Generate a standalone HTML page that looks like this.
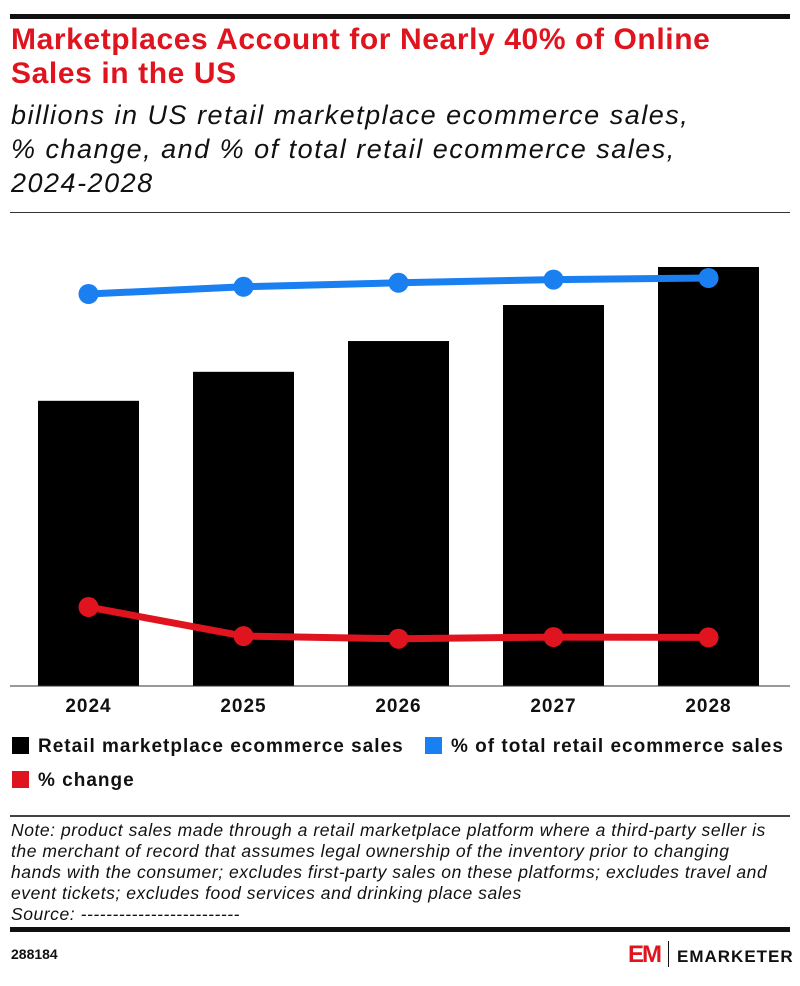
<!DOCTYPE html>
<html><head><meta charset="utf-8"><style>
body{margin:0;width:800px;height:986px;background:#fff;font-family:"Liberation Sans",sans-serif;position:relative;overflow:hidden}
.abs{position:absolute}
</style></head><body>
<div class="abs" style="left:10px;top:14px;width:780px;height:5px;background:#111"></div>
<div class="abs" style="left:11px;top:23px;width:790px;white-space:nowrap;font-weight:bold;font-size:30px;line-height:34px;color:#e0141e;letter-spacing:0.6px">Marketplaces Account for Nearly 40% of Online<br>Sales in the US</div>
<div class="abs" style="left:11px;top:98px;width:790px;white-space:nowrap;font-style:italic;font-size:27px;line-height:34px;color:#111;letter-spacing:1.5px">billions in US retail marketplace ecommerce sales,<br>% change, and % of total retail ecommerce sales,<br>2024-2028</div>
<div class="abs" style="left:10px;top:212px;width:780px;height:1px;background:#333"></div>
<svg class="abs" style="left:0;top:0" width="800" height="986" id="chart"></svg>
<div class="abs" style="left:12px;top:736px;font-weight:bold;font-size:19px;color:#111;letter-spacing:1px"><span style="display:inline-block;width:17px;height:17px;background:#000;vertical-align:-2px;margin-right:9px"></span>Retail marketplace ecommerce sales</div>
<div class="abs" style="left:425px;top:736px;font-weight:bold;font-size:19px;color:#111;letter-spacing:1px"><span style="display:inline-block;width:17px;height:17px;background:#1a7ff0;vertical-align:-2px;margin-right:9px"></span>% of total retail ecommerce sales</div>
<div class="abs" style="left:12px;top:770px;font-weight:bold;font-size:19px;color:#111;letter-spacing:1px"><span style="display:inline-block;width:17px;height:17px;background:#e0141e;vertical-align:-2px;margin-right:9px"></span>% change</div>
<div class="abs" style="left:10px;top:815px;width:780px;height:2px;background:#444"></div>
<div class="abs" style="left:11px;top:820px;width:790px;white-space:nowrap;font-style:italic;font-size:17.5px;line-height:21px;color:#111;letter-spacing:0.55px">Note: product sales made through a retail marketplace platform where a third-party seller is<br>the merchant of record that assumes legal ownership of the inventory prior to changing<br>hands with the consumer; excludes first-party sales on these platforms; excludes travel and<br>event tickets; excludes food services and drinking place sales<br>Source: -------------------------</div>
<div class="abs" style="left:10px;top:927px;width:780px;height:5px;background:#111"></div>
<div class="abs" style="left:11px;top:946px;font-weight:bold;font-size:14px;color:#111">288184</div>
<div class="abs" style="left:628px;top:941px;font-weight:bold;font-size:17px;color:#111;letter-spacing:1px"><span style="color:#e0141e;font-size:24px;letter-spacing:-2px">EM</span><span style="display:inline-block;width:1px;height:26px;background:#111;margin:0 8px;vertical-align:-5px"></span>EMARKETER</div>
<script>
const categories=["2024","2025","2026","2027","2028"];
const sales=[445.6,490.9,539.0,595.3,654.7];
const shareOfTotal=[37.5,38.4,38.9,39.3,39.5];
const pctChange=[14.6,10.2,9.8,10.05,10.0];
const svg=document.getElementById('chart');
const NS="http://www.w3.org/2000/svg";
const baseY=686, x0=11, step=155, barW=101;
const xC=i=>x0+step*i+step/2;
const yBar=v=>baseY-v*0.64;
const yShare=v=>594-v*8;
const yChg=v=>703.4-v*6.6;
function mk(t,a){const e=document.createElementNS(NS,t);for(const k in a)e.setAttribute(k,a[k]);svg.appendChild(e);return e;}
sales.forEach((v,i)=>{const r=mk('rect',{x:xC(i)-barW/2,y:yBar(v),width:barW,height:baseY-yBar(v),fill:'#000'});

});
const ax=mk('line',{x1:10,x2:790,y1:baseY,y2:baseY,stroke:'#333','stroke-width':1});


categories.forEach((c,i)=>{const t=mk('text',{x:xC(i),y:712,'text-anchor':'middle','font-size':19,'font-weight':'bold',fill:'#111','font-family':'Liberation Sans','letter-spacing':1});t.textContent=c;

});
function series(vals,fy,col,name){
const pl=mk('polyline',{points:vals.map((v,i)=>xC(i)+','+fy(v)).join(' '),fill:'none',stroke:col,'stroke-width':7,'stroke-linejoin':'round'});


vals.forEach((v,i)=>{const c=mk('circle',{cx:xC(i),cy:fy(v),r:10,fill:col});

});}
series(shareOfTotal,yShare,'#1a7ff0','share');
series(pctChange,yChg,'#e0141e','change');
</script>
</body></html>
